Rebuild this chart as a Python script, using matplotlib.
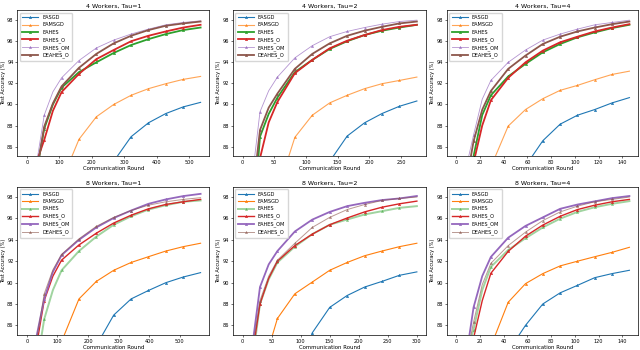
import matplotlib
matplotlib.use("Agg")
from matplotlib import pyplot as plt

# Data read off the figure (test accuracy in %), sampled every marker step
# first three samples are half steps near the start of each run

methods = ['EASGD', 'EAMSGD', 'EAHES', 'EAHES_O', 'EAHES_OM', 'DEAHES_O']

# 4 workers, tau=1
rounds_4w1 = [26.75, 53.5, 80.25, 107, 160.5, 214, 267.5, 321, 374.5, 428, 481.5, 535]
easgd_4w1 = [40, 55, 63, 68, 75, 80.5, 84.6, 86.94, 88.26, 89.14, 89.77, 90.2]
eamsgd_4w1 = [55, 68, 76, 82.7, 86.69, 88.83, 90.0, 90.87, 91.5, 91.97, 92.38, 92.66]
eahes_4w1 = [83.05, 87.7, 90.0, 91.6, 93.07, 94.0, 94.89, 95.64, 96.2, 96.68, 97.06, 97.3]
eahes_o_4w1 = [84.27, 86.63, 89.4, 91.18, 92.9, 94.3, 95.17, 96.0, 96.52, 96.93, 97.3, 97.56]
eahes_om_4w1 = [83.8, 88.98, 91.2, 92.53, 94.17, 95.36, 96.11, 96.68, 97.15, 97.56, 97.78, 97.94]
deahes_o_4w1 = [82.9, 87.9, 90.1, 91.72, 93.48, 94.8, 95.8, 96.52, 97.06, 97.47, 97.69, 97.87]

# 4 workers, tau=2
rounds_4w2 = [13.75, 27.5, 41.25, 55, 82.5, 110, 137.5, 165, 192.5, 220, 247.5, 275]
easgd_4w2 = [20, 40, 52, 60, 72, 80, 84.6, 87.0, 88.26, 89.14, 89.83, 90.33]
eamsgd_4w2 = [40, 60, 74, 81.7, 86.88, 88.98, 90.15, 90.87, 91.5, 91.97, 92.28, 92.6]
eahes_4w2 = [76.3, 86.94, 89.1, 90.65, 93.07, 94.23, 95.27, 96.0, 96.59, 97.0, 97.3, 97.56]
eahes_o_4w2 = [70, 84.9, 88.3, 90.24, 92.97, 94.23, 95.33, 96.05, 96.59, 97.06, 97.37, 97.56]
eahes_om_4w2 = [82.3, 89.3, 91.3, 92.6, 94.42, 95.58, 96.43, 96.93, 97.3, 97.62, 97.87, 98.0]
deahes_o_4w2 = [80.3, 87.57, 89.7, 91.03, 93.38, 94.8, 95.8, 96.52, 97.0, 97.37, 97.69, 97.87]

# 4 workers, tau=4
rounds_4w4 = [7.3, 14.6, 21.9, 29.2, 43.8, 58.4, 73, 87.6, 102.2, 116.8, 131.4, 146]
easgd_4w4 = [20, 40, 52, 60, 75, 84.16, 86.56, 88.13, 88.98, 89.52, 90.15, 90.65]
eamsgd_4w4 = [40, 60, 75, 84.07, 87.95, 89.52, 90.55, 91.34, 91.81, 92.35, 92.85, 93.16]
eahes_4w4 = [70, 85.1, 89.0, 90.87, 92.66, 93.85, 94.95, 95.74, 96.37, 96.84, 97.25, 97.56]
eahes_o_4w4 = [70, 84.47, 88.0, 90.4, 92.53, 94.0, 95.11, 95.9, 96.43, 96.93, 97.3, 97.62]
eahes_om_4w4 = [83.5, 87.1, 90.5, 92.28, 94.0, 95.17, 96.11, 96.68, 97.15, 97.56, 97.78, 98.0]
deahes_o_4w4 = [81.9, 86.5, 89.5, 91.28, 93.38, 94.64, 95.74, 96.43, 96.93, 97.3, 97.62, 97.87]

# 8 workers, tau=1
rounds_8w1 = [28.4, 56.8, 85.2, 113.6, 170.4, 227.2, 284, 340.8, 397.6, 454.4, 511.2, 568]
easgd_8w1 = [20, 40, 55, 62, 76, 84.1, 86.96, 88.47, 89.26, 89.99, 90.52, 90.93]
eamsgd_8w1 = [40, 60, 76, 84.48, 88.47, 90.11, 91.15, 91.88, 92.42, 92.95, 93.36, 93.68]
eahes_8w1 = [81.5, 86.58, 89.3, 91.15, 92.95, 94.3, 95.41, 96.2, 96.83, 97.24, 97.56, 97.68]
eahes_o_8w1 = [83.56, 88.32, 90.6, 92.1, 93.52, 94.62, 95.57, 96.3, 96.9, 97.31, 97.56, 97.78]
eahes_om_8w1 = [84.5, 88.47, 91.0, 92.57, 94.0, 95.16, 96.04, 96.74, 97.37, 97.78, 98.09, 98.3]
deahes_o_8w1 = [84.03, 88.95, 91.2, 92.64, 94.09, 95.26, 96.1, 96.74, 97.24, 97.56, 97.78, 97.94]

# 8 workers, tau=2
rounds_8w2 = [15, 30, 45, 60, 90, 120, 150, 180, 210, 240, 270, 300]
easgd_8w2 = [20, 40, 52, 62, 76, 85.3, 87.68, 88.79, 89.58, 90.11, 90.68, 91.0]
eamsgd_8w2 = [40, 62, 83.9, 86.64, 88.95, 90.05, 91.15, 91.88, 92.51, 92.95, 93.36, 93.68]
eahes_8w2 = [81.85, 88.0, 90.3, 91.88, 93.36, 94.53, 95.41, 95.9, 96.37, 96.68, 96.99, 97.15]
eahes_o_8w2 = [82.6, 88.0, 90.4, 92.0, 93.46, 94.53, 95.41, 96.04, 96.61, 97.05, 97.37, 97.62]
eahes_om_8w2 = [83.3, 89.58, 91.7, 92.95, 94.78, 95.89, 96.61, 97.15, 97.46, 97.72, 97.87, 98.1]
deahes_o_8w2 = [83.08, 88.32, 90.6, 92.1, 93.68, 95.16, 96.1, 96.83, 97.3, 97.68, 97.87, 98.0]

# 8 workers, tau=4
rounds_8w4 = [7.3, 14.6, 21.9, 29.2, 43.8, 58.4, 73, 87.6, 102.2, 116.8, 131.4, 146]
easgd_8w4 = [20, 40, 55, 65, 83.57, 86.0, 88.0, 89.04, 89.74, 90.46, 90.84, 91.15]
eamsgd_8w4 = [40, 60, 75, 84.04, 88.16, 89.9, 90.84, 91.56, 92.0, 92.42, 92.83, 93.3]
eahes_8w4 = [82.9, 85.6, 89.3, 91.47, 93.05, 94.15, 95.16, 95.98, 96.61, 97.05, 97.37, 97.62]
eahes_o_8w4 = [70, 84.8, 88.3, 90.87, 92.92, 94.34, 95.38, 96.2, 96.83, 97.24, 97.56, 97.78]
eahes_om_8w4 = [82.25, 87.68, 90.6, 92.4, 94.2, 95.3, 96.1, 96.9, 97.3, 97.6, 97.9, 98.1]
deahes_o_8w4 = [82.3, 86.3, 89.8, 91.8, 93.46, 94.72, 95.8, 96.61, 97.15, 97.56, 97.78, 98.0]

titles = ['4 Workers, Tau=1', '4 Workers, Tau=2', '4 Workers, Tau=4',
          '8 Workers, Tau=1', '8 Workers, Tau=2', '8 Workers, Tau=4']
xticks = [range(0, 501, 100), range(0, 251, 50), range(0, 141, 20),
          range(0, 501, 100), range(0, 301, 50), range(0, 141, 20)]

panels = [
    (rounds_4w1, [easgd_4w1, eamsgd_4w1, eahes_4w1, eahes_o_4w1, eahes_om_4w1, deahes_o_4w1]),
    (rounds_4w2, [easgd_4w2, eamsgd_4w2, eahes_4w2, eahes_o_4w2, eahes_om_4w2, deahes_o_4w2]),
    (rounds_4w4, [easgd_4w4, eamsgd_4w4, eahes_4w4, eahes_o_4w4, eahes_om_4w4, deahes_o_4w4]),
    (rounds_8w1, [easgd_8w1, eamsgd_8w1, eahes_8w1, eahes_o_8w1, eahes_om_8w1, deahes_o_8w1]),
    (rounds_8w2, [easgd_8w2, eamsgd_8w2, eahes_8w2, eahes_o_8w2, eahes_om_8w2, deahes_o_8w2]),
    (rounds_8w4, [easgd_8w4, eamsgd_8w4, eahes_8w4, eahes_o_8w4, eahes_om_8w4, deahes_o_8w4]),
]

colors = ['C0', 'C1', 'C2', 'C3', 'C4', 'C5']
# line width / alpha differ between the two rows of the original
style_top = [(0.8, 1.0), (0.8, 0.7), (1.3, 1.0), (1.3, 1.0), (0.6, 0.7), (1.3, 1.0)]
style_bot = [(0.8, 1.0), (0.8, 1.0), (1.4, 0.45), (1.0, 1.0), (1.3, 1.0), (0.7, 0.6)]

# axes boxes in figure fractions [left, bottom, width, height]
lefts = [0.027, 0.364, 0.698]
widths = [0.300, 0.301, 0.299]
rows = [(0.554, 0.417), (0.043, 0.423)]

fig = plt.figure(figsize=(6.4, 3.5), dpi=100)

for k, (rounds, series) in enumerate(panels):
    r, c = divmod(k, 3)
    ax = fig.add_axes([lefts[c], rows[r][0], widths[c], rows[r][1]])
    styles = style_top if r == 0 else style_bot
    for i, acc in enumerate(series):
        lw, a = styles[i]
        ax.plot([0] + rounds, [10] + acc, color=colors[i], lw=lw, alpha=a,
                marker='^', markersize=1.6, markeredgewidth=0.4,
                markevery=[2, 4, 5, 6, 7, 8, 9, 10, 11], label=methods[i])
    xmax = rounds[-1]
    ax.set_xlim(-0.055 * xmax, 1.05 * xmax)
    ax.set_ylim(85.1, 98.95)
    ax.set_yticks([86, 88, 90, 92, 94, 96, 98])
    ax.set_xticks(list(xticks[k]))
    ax.tick_params(labelsize=3.6, length=1.5, width=0.4, pad=1.2)
    for s in ax.spines.values():
        s.set_linewidth(0.5)
    ax.set_title(titles[k], fontsize=4.5, pad=1.5)
    ax.set_xlabel('Communication Round', fontsize=3.9, labelpad=1)
    ax.set_ylabel('Test Accuracy (%)', fontsize=3.6, labelpad=1)
    ax.legend(loc='upper left', fontsize=3.6, handlelength=3.2, labelspacing=0.45,
              borderpad=0.5, handletextpad=0.8, frameon=True, fancybox=True)

fig.savefig('out.png', dpi=100)
